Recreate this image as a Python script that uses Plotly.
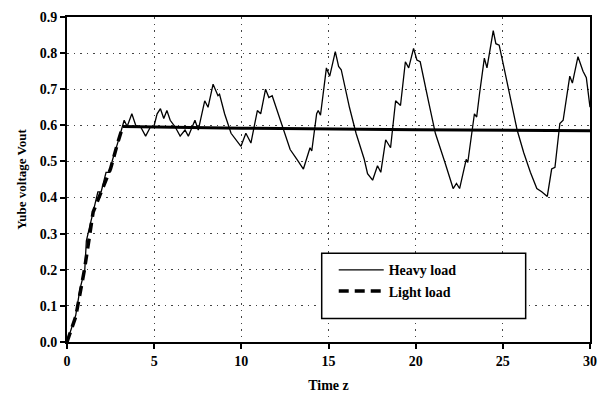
import plotly.graph_objects as go

# Heavy load response
time_heavy = [0, 0.5, 0.74, 1.02, 1.11, 1.49, 1.77, 1.96, 2.24, 2.43,
              2.62, 2.9, 3.19, 3.28, 3.45, 3.72, 3.94, 4.22, 4.51, 4.79,
              4.98, 5.17, 5.36, 5.55, 5.73, 5.92, 6.2, 6.49, 6.77, 6.96,
              7.34, 7.53, 7.9, 8.09, 8.38, 8.66, 8.75, 9.04, 9.41, 9.7,
              9.98, 10.26, 10.55, 10.92, 11.11, 11.39, 11.58, 11.77, 12.05, 12.43,
              12.8, 13.19, 13.56, 13.94, 14.04, 14.32, 14.41, 14.54, 14.88, 15.07,
              15.39, 15.58, 15.73, 16.2, 16.58, 17.05, 17.24, 17.53, 17.81, 18.0,
              18.28, 18.56, 18.85, 19.13, 19.41, 19.6, 19.88, 20.07, 20.26, 20.73,
              21.13, 21.68, 22.15, 22.34, 22.52, 22.9, 22.99, 23.37, 23.5, 23.66,
              23.94, 24.09, 24.22, 24.45, 24.6, 24.79, 25.07, 25.45, 25.82, 26.2,
              26.58, 26.95, 27.23, 27.55, 27.8, 27.99, 28.27, 28.46, 28.84, 28.99,
              29.31, 29.6, 29.79, 30.0]
v_heavy = [0, 0.074, 0.146, 0.2, 0.28, 0.36, 0.416, 0.416, 0.47, 0.47,
           0.506, 0.55, 0.596, 0.614, 0.597, 0.632, 0.6, 0.596, 0.57, 0.596,
           0.596, 0.632, 0.646, 0.619, 0.641, 0.614, 0.596, 0.57, 0.587, 0.57,
           0.614, 0.587, 0.668, 0.65, 0.714, 0.682, 0.686, 0.632, 0.578, 0.56,
           0.542, 0.578, 0.551, 0.641, 0.632, 0.7, 0.677, 0.682, 0.641, 0.587,
           0.533, 0.506, 0.479, 0.538, 0.529, 0.632, 0.641, 0.628, 0.759, 0.736,
           0.804, 0.763, 0.754, 0.65, 0.578, 0.506, 0.466, 0.448, 0.488, 0.47,
           0.56, 0.538, 0.668, 0.655, 0.776, 0.759, 0.813, 0.781, 0.776, 0.668,
           0.578, 0.497, 0.425, 0.439, 0.425, 0.506, 0.497, 0.632, 0.623, 0.686,
           0.786, 0.759, 0.8, 0.862, 0.826, 0.822, 0.759, 0.668, 0.587, 0.524,
           0.47, 0.425, 0.416, 0.403, 0.479, 0.484, 0.605, 0.614, 0.736, 0.717,
           0.79, 0.75, 0.732, 0.65]

# Light load response: ramp (dashed) then steady state
time_light_ramp = [0, 0.5, 1.0, 1.5, 2.0, 2.5, 2.9, 3.2]
v_light_ramp = [0, 0.07, 0.2, 0.36, 0.42, 0.48, 0.55, 0.597]
time_light_flat = [3.2, 10, 20, 30]
v_light_flat = [0.597, 0.592, 0.588, 0.585]

x_ticks = [0, 5, 10, 15, 20, 25, 30]
y_ticks = [0.0, 0.1, 0.2, 0.3, 0.4, 0.5, 0.6, 0.7, 0.8, 0.9]

FONT = "Liberation Serif"

fig = go.Figure()
fig.add_trace(go.Scatter(x=time_light_flat, y=v_light_flat, mode="lines",
                         line=dict(color="black", width=3), showlegend=False))
fig.add_trace(go.Scatter(x=time_heavy, y=v_heavy, mode="lines", name="Heavy load",
                         line=dict(color="black", width=1.3)))
fig.add_trace(go.Scatter(x=time_light_ramp, y=v_light_ramp, mode="lines", name="Light load",
                         line=dict(color="black", width=3.5, dash="10px,6px")))

axis_common = dict(showline=True, linecolor="black", linewidth=2, mirror=True,
                   ticks="outside", ticklen=5, tickwidth=1.5, tickcolor="black",
                   showgrid=True, gridcolor="#444444", gridwidth=1, griddash="1.5px,5px",
                   zeroline=False,
                   tickfont=dict(family=FONT, size=14, color="black", weight="bold"))

fig.update_xaxes(range=[0, 30], tickvals=x_ticks, ticktext=[str(v) for v in x_ticks],
                 title=dict(text="Time z", font=dict(family=FONT, size=14, color="black", weight="bold"),
                            standoff=12),
                 **axis_common)
fig.update_yaxes(range=[0, 0.9], tickvals=y_ticks, ticktext=[f"{v:.1f}" for v in y_ticks],
                 title=dict(text="Yube voltage Vout", font=dict(family=FONT, size=13, color="black", weight="bold"),
                            standoff=10),
                 **axis_common)

fig.add_shape(type="rect", xref="paper", yref="paper", x0=0.487, x1=0.877, y0=0.072, y1=0.273,
              line=dict(color="black", width=1.5), fillcolor="white", layer="above")

fig.update_layout(
    width=607, height=401,
    margin=dict(l=67, r=10, t=11, b=57),
    plot_bgcolor="white", paper_bgcolor="white",
    legend=dict(x=0.51, y=0.27, xanchor="left", yanchor="top", bgcolor="rgba(0,0,0,0)",
                borderwidth=0, font=dict(family=FONT, size=14, color="black", weight="bold"),
                tracegroupgap=6, itemwidth=45),
)

fig.write_html("out.html")
